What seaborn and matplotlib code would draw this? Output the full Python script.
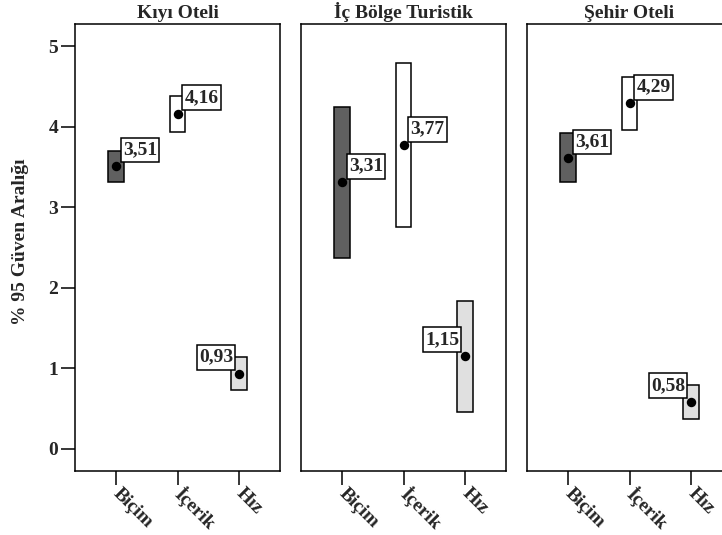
import matplotlib
matplotlib.use("Agg")
import matplotlib.pyplot as plt
from matplotlib.path import Path
import numpy as np
import seaborn as sns

# Panels and item categories
panels = ["Kıyı Oteli", "İç Bölge Turistik", "Şehir Oteli"]
categories = ["Biçim", "İçerik", "Hız"]

# Means and 95% confidence limits per panel (order follows `categories`)
kiyi_mean = [3.51, 4.16, 0.93]
kiyi_low = [3.31, 3.93, 0.73]
kiyi_high = [3.70, 4.38, 1.14]

ic_mean = [3.31, 3.77, 1.15]
ic_low = [2.37, 2.75, 0.46]
ic_high = [4.24, 4.79, 1.84]

sehir_mean = [3.61, 4.29, 0.58]
sehir_low = [3.31, 3.96, 0.37]
sehir_high = [3.92, 4.62, 0.79]

y_ticks = [0, 1, 2, 3, 4, 5]
y_label = "% 95 Güven Aralığı"

panel_data = [
    (kiyi_mean, kiyi_low, kiyi_high),
    (ic_mean, ic_low, ic_high),
    (sehir_mean, sehir_low, sehir_high),
]

fills = ["#606060", "#ffffff", "#e0e0e0"]
label_side = ["right", "right", "left"]

sns.set_style("ticks")
plt.rcParams["font.family"] = ["Liberation Serif", "DejaVu Serif"]
plt.rcParams["font.weight"] = "bold"

FS = 14
PADX = 0.12   # horizontal box padding, fraction of font size
PADY = 0.20   # vertical box padding, fraction of font size


def label_box(x0, y0, width, height, mutation_size):
    """Rectangle around a label with separate horizontal/vertical padding."""
    px = PADX * mutation_size
    py = PADY * mutation_size
    x0, y0 = x0 - px, y0 - py
    x1, y1 = x0 + width + 2 * px, y0 + height + 2 * py
    return Path([(x0, y0), (x1, y0), (x1, y1), (x0, y1), (x0, y0)],
                closed=True)


W, H = 722, 535
fig = plt.figure(figsize=(W / 100, H / 100), dpi=100)

ax_w = 205 / W
ax_h = (471 - 24) / H
ax_b = (H - 471) / H
lefts = [75 / W, 301 / W, 527 / W]

for i, (title, (mean, low, high)) in enumerate(zip(panels, panel_data)):
    ax = fig.add_axes([lefts[i], ax_b, ax_w, ax_h])
    pos = np.arange(len(categories))
    low_a = np.asarray(low)
    high_a = np.asarray(high)

    # Confidence-interval boxes
    ax.bar(pos, high_a - low_a, bottom=low_a, width=0.25, color=fills,
           edgecolor="black", linewidth=1.1, zorder=2)

    # Mean markers
    sns.stripplot(x=categories, y=mean, order=categories, jitter=False,
                  color="black", size=6.8, linewidth=0, ax=ax, zorder=4)

    # Value labels in boxes
    for j, m in enumerate(mean):
        txt = f"{m:.2f}".replace(".", ",")
        box = dict(boxstyle=label_box, fc="white", ec="black", lw=1.1)
        if label_side[j] == "right":
            ax.annotate(txt, xy=(pos[j] + 0.075, m + 0.045), xycoords="data",
                        xytext=(PADX * FS, PADY * FS), textcoords="offset points",
                        ha="left", va="bottom", fontsize=FS, fontweight="bold",
                        bbox=box, zorder=5)
        else:
            ax.annotate(txt, xy=(pos[j] - 0.058, m + 0.055), xycoords="data",
                        xytext=(-PADX * FS, PADY * FS), textcoords="offset points",
                        ha="right", va="bottom", fontsize=FS, fontweight="bold",
                        bbox=box, zorder=5)

    ax.set_xlim(-2 / 3, 8 / 3)
    ax.set_ylim(-0.273, 5.273)
    ax.set_xlabel("")
    ax.set_ylabel("")
    ax.set_title(title, fontsize=FS, fontweight="bold", pad=4)

    ax.set_xticks(pos)
    ax.set_xticklabels(categories, rotation=-45, ha="left", va="center",
                       rotation_mode="anchor", fontsize=FS, fontweight="bold")
    ax.tick_params(axis="x", length=10, width=1.1, pad=4.5, color="black")
    if i == 0:
        ax.set_yticks(y_ticks)
        ax.set_yticklabels([str(t) for t in y_ticks], fontsize=FS, fontweight="bold")
        ax.tick_params(axis="y", length=10, width=1.1, pad=2, color="black")
    else:
        ax.set_yticks([])

    for s in ax.spines.values():
        s.set_visible(True)
        s.set_color("black")
        s.set_linewidth(1.1)
    ax.set_facecolor("white")

fig.text(21 / W, 1 - 242 / H, y_label, rotation=90, ha="center", va="center",
         fontsize=FS, fontweight="bold")

fig.savefig("out.png", dpi=100, facecolor="white")
